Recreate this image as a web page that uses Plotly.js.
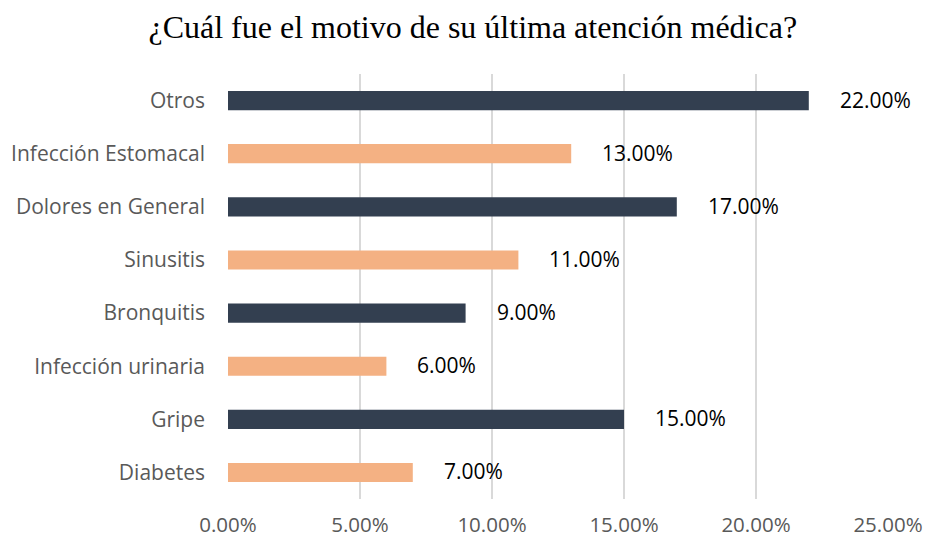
<!DOCTYPE html>
<html><head><meta charset="utf-8">
<script src="https://cdn.plot.ly/plotly-3.0.1.min.js"></script>
<style>html,body{margin:0;padding:0;background:#fff}#chart{width:927px;height:540px}</style>
</head><body><div id="chart"></div>
<script>
const categories = ["Diabetes","Gripe","Infección urinaria","Bronquitis","Sinusitis","Dolores en General","Infección Estomacal","Otros"];
const values = [7, 15, 6, 9, 11, 17, 13, 22];
const barColors = ["#f4b183","#333f50","#f4b183","#333f50","#f4b183","#333f50","#f4b183","#333f50"];
const tickVals = [0,5,10,15,20,25];
const tickText = ["0.00%","5.00%","10.00%","15.00%","20.00%","25.00%"];
const labelFont = "'Open Sans', 'Noto Sans', sans-serif";

const annotations = categories.map((c,i)=>({
  x: values[i], y: c, xref:'x', yref:'y', text: values[i].toFixed(2)+'%',
  showarrow:false, xanchor:'left', xshift:29, yshift:1,
  font:{family:labelFont, size:21, color:'#000000'}
}));

Plotly.newPlot('chart', [{
  type:'bar', orientation:'h', y:categories, x:values,
  marker:{color:barColors}, hoverinfo:'none'
}], {
  width:927, height:540,
  margin:{l:228, r:39, t:74, b:41},
  paper_bgcolor:'#fff', plot_bgcolor:'#fff',
  bargap:0.64,
  title:{text:'¿Cuál fue el motivo de su última atención médica?', x:0.51, xanchor:'center', y:0.95, yanchor:'middle',
    font:{family:"'Liberation Serif', 'Times New Roman', serif", size:32, color:'#000'}},
  xaxis:{range:[0,25], tickvals:tickVals, ticktext:tickText, showgrid:true, gridcolor:'#d9d9d9', gridwidth:1.5,
    zeroline:false, showline:false, ticks:'', ticklabelstandoff:11,
    tickfont:{family:labelFont, size:20.5, color:'#595959'}},
  yaxis:{type:'category', categoryorder:'array', categoryarray:categories, showgrid:false, zeroline:false,
    showline:false, ticks:'', ticklabelstandoff:22,
    tickfont:{family:labelFont, size:21, color:'#595959'}},
  annotations:annotations,
  showlegend:false
}, {staticPlot:true});
</script></body></html>
